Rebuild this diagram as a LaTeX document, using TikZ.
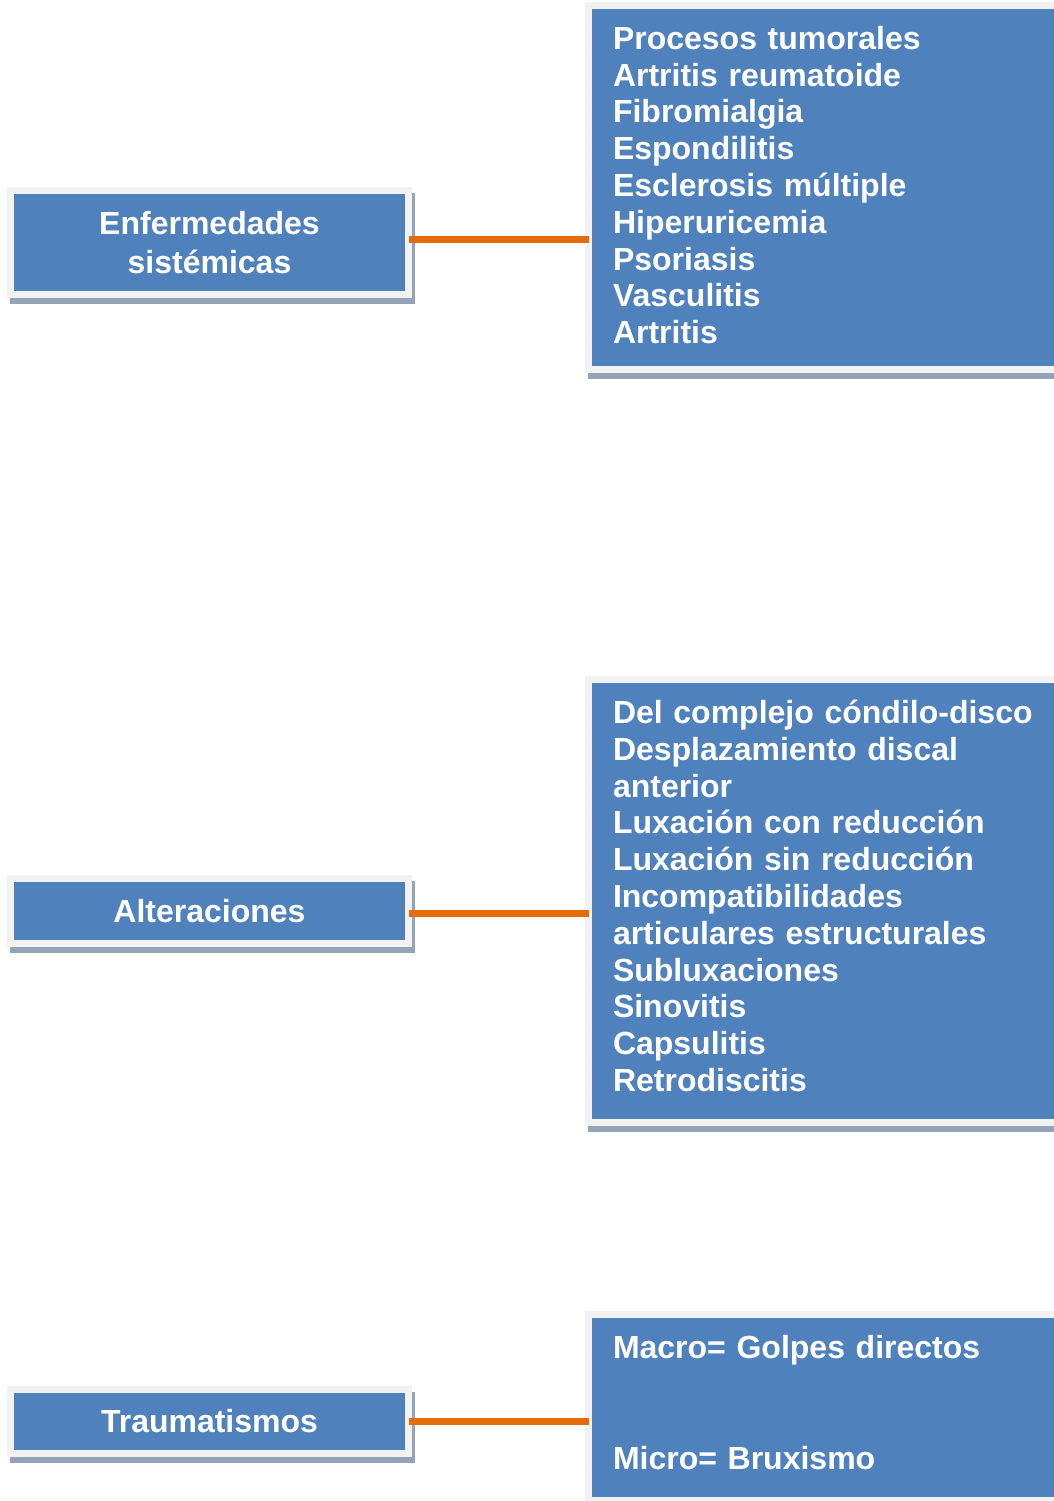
\documentclass[tikz,border=0pt]{standalone}
\usepackage{fontspec}
\setmainfont{Liberation Sans}
\usepackage{xcolor}
\usepackage{tikz}
\usetikzlibrary{shadows}
\definecolor{boxblue}{RGB}{79,129,189}
\definecolor{framegray}{RGB}{242,242,242}
\definecolor{shadowgray}{RGB}{149,163,184}
\definecolor{linkorange}{RGB}{228,108,10}
% extra room under the last line of a list
\newcommand{\bottompad}[1]{\par\vspace{#1}\kern0pt}

\begin{document}
\begin{tikzpicture}[
  x=0.5pt, y=-0.5pt,
  font=\fontsize{16}{18.4}\selectfont\bfseries,
  box/.style={fill=boxblue, draw=framegray, line width=3.5pt, outer sep=0pt, text=white,
    general shadow={fill=shadowgray, draw=shadowgray, line width=3.5pt,
      shadow xshift=1.5pt, shadow yshift=-3pt}},
  cause/.style={box, minimum width=199pt, align=center,
    font=\fontsize{16}{19.5}\selectfont\bfseries},
  list/.style={box, inner xsep=12.25pt, text width=216pt, align=left},
  link/.style={draw=linkorange, line width=3.5pt}
]
\useasboundingbox (0,0) rectangle (1054,1501);
\clip (0,0) rectangle (1054,1501);

% causes on the left
\node[cause, minimum height=52pt] (sist) at (209.5,242.5) {Enfermedades\\sistémicas};
\node[cause, minimum height=32.5pt] (alt) at (209.5,911) {Alteraciones};
\node[cause, minimum height=32pt] (trau) at (209.5,1421.5) {Traumatismos};

% lists on the right
\node[list, minimum height=182pt] (sistl) at (829,187.5) {Procesos tumorales\\
  Artritis reumatoide\\Fibromialgia\\Espondilitis\\Esclerosis múltiple\\
  Hiperuricemia\\Psoriasis\\Vasculitis\\Artritis\bottompad{2.5pt}};
\node[list, minimum height=221.5pt] (altl) at (829,901) {Del complejo cóndilo-disco\\
  Desplazamiento discal\\anterior\\Luxación con reducción\\Luxación sin reducción\\
  Incompatibilidades\\articulares estructurales\\Subluxaciones\\Sinovitis\\
  Capsulitis\\Retrodiscitis\bottompad{5pt}};
\node[list, minimum height=93pt] (traul) at (829,1407.5) {Macro= Golpes directos\\
  ~\\~\\Micro= Bruxismo\bottompad{5pt}};

% connectors
\draw[link] ([yshift=1.5pt]sist.east) -- ([yshift=1.5pt]sist.east -| sistl.west);
\draw[link] ([yshift=-1pt]alt.east) -- ([yshift=-1pt]alt.east -| altl.west);
\draw[link] (trau.east) -- (trau.east -| traul.west);
\end{tikzpicture}
\end{document}
